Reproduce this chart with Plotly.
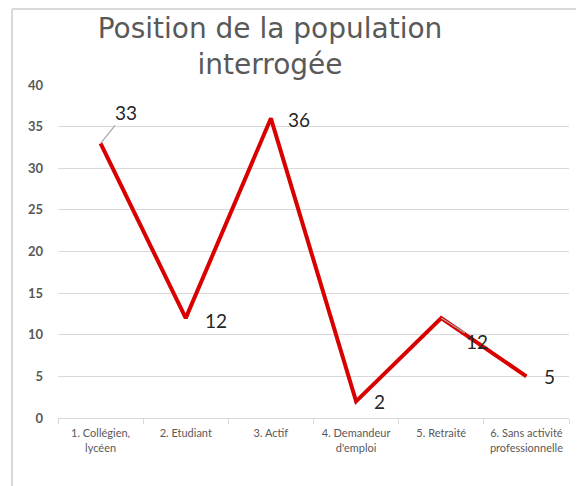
import plotly.graph_objects as go

# données
categories = [
    "1. Collégien,<br>lycéen",
    "2. Etudiant",
    "3. Actif",
    "4. Demandeur<br>d'emploi",
    "5. Retraité",
    "6. Sans activité<br>professionnelle",
]
valeurs = [33, 12, 36, 2, 12, 5]
y_ticks = [0, 5, 10, 15, 20, 25, 30, 35, 40]

# décalage des étiquettes (px) et présence d'une ligne de rappel
label_dx = [25, 30, 28, 23, 36, 23]
label_dy = [-31, 2, 1, 0, 23, 0]
leader = [True, False, False, False, True, False]

# la page ajoute une marge de 8 px autour de la figure
OFF = 8
W, H = 584 - OFF, 486 - OFF
ML, MR, MT, MB = 58 - OFF, 15, 85 - OFF, 68
GRIS = "#595959"
GRILLE = "#d9d9d9"

fig = go.Figure()

fig.add_trace(go.Scatter(
    x=categories, y=valeurs,
    mode="lines",
    line=dict(color="#d90000", width=4),
    hoverinfo="x+y",
))

for cat, v, dx, dy, lead in zip(categories, valeurs, label_dx, label_dy, leader):
    if lead:
        fig.add_annotation(
            x=cat, y=v, text=str(v),
            showarrow=True, arrowhead=0, arrowwidth=1.2, arrowcolor="#a6a6a6",
            ax=dx, ay=dy, standoff=0,
            font=dict(family="Lato", size=19, color="#262626"),
        )
    else:
        fig.add_annotation(
            x=cat, y=v, text=str(v), showarrow=False,
            xshift=dx, yshift=-dy,
            font=dict(family="Lato", size=19, color="#262626"),
        )

# cadre du graphique (bords gauche et haut)
pw = W - ML - MR
ph = H - MT - MB
fig.add_shape(
    type="line", xref="paper", yref="paper",
    x0=(12 - OFF - ML) / pw, x1=(12 - OFF - ML) / pw,
    y0=-(MB + 10) / ph, y1=(H - 1 - MB) / ph,
    line=dict(color=GRILLE, width=2), layer="below",
)
fig.add_shape(
    type="line", xref="paper", yref="paper",
    x0=(12 - OFF - ML) / pw, x1=(W + 10 - ML) / pw,
    y0=(H - 1 - MB) / ph, y1=(H - 1 - MB) / ph,
    line=dict(color=GRILLE, width=2), layer="below",
)

fig.update_layout(
    width=W, height=H,
    margin=dict(l=ML, r=MR, t=MT, b=MB),
    paper_bgcolor="white", plot_bgcolor="white",
    showlegend=False,
    title=dict(
        text="Position de la population<br>interrogée",
        x=(270 - OFF) / W, xanchor="center", xref="container",
        y=1 - 30 / H, yanchor="middle", yref="container",
        font=dict(family="DejaVu Sans", size=28, color=GRIS),
    ),
)

fig.update_xaxes(
    range=[-0.5, 5.5],
    showgrid=False, showline=True, linecolor=GRILLE, linewidth=1,
    ticks="outside", tickson="boundaries", ticklen=5, tickcolor=GRILLE,
    ticklabelstandoff=5,
    tickfont=dict(family="Lato", size=11, color=GRIS),
    fixedrange=True,
)
fig.update_yaxes(
    range=[0, 40], tickvals=y_ticks,
    showgrid=True, gridcolor=GRILLE, gridwidth=1,
    zeroline=False, showline=False, ticks="",
    ticklabelstandoff=14,
    tickfont=dict(family="Lato", size=13, color=GRIS, weight="bold"),
    fixedrange=True,
)

fig.write_html("out.html")
